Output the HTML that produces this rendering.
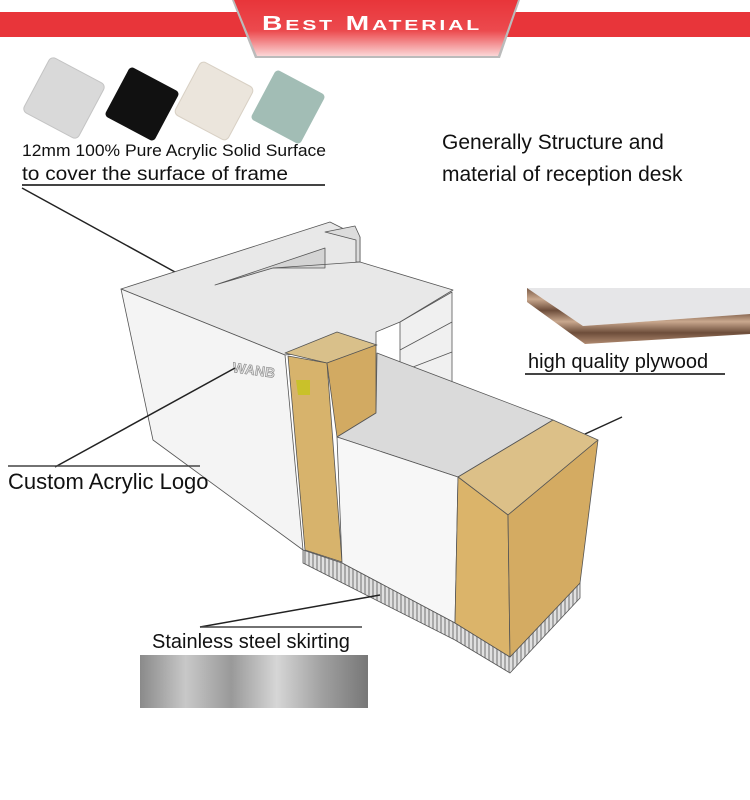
<!DOCTYPE html>
<html><head><meta charset="utf-8"><style>
html,body{margin:0;padding:0;background:#fff;}
svg{display:block;font-family:"Liberation Sans",sans-serif;}
</style></head><body>
<svg width="750" height="800" viewBox="0 0 750 800" xmlns="http://www.w3.org/2000/svg">
<defs>
<linearGradient id="tr" x1="0" y1="0" x2="0" y2="1">
<stop offset="0" stop-color="#e8353a"/><stop offset="0.55" stop-color="#ec4a4e"/><stop offset="1" stop-color="#fbd6d6"/></linearGradient>
<linearGradient id="steel" x1="0" y1="0" x2="1" y2="0">
<stop offset="0" stop-color="#8a8a8a"/><stop offset="0.2" stop-color="#c8c8c8"/><stop offset="0.4" stop-color="#999"/><stop offset="0.6" stop-color="#d6d6d6"/><stop offset="0.8" stop-color="#a0a0a0"/><stop offset="1" stop-color="#777"/></linearGradient>
<pattern id="skirt" width="4" height="10" patternUnits="userSpaceOnUse">
<rect width="4" height="10" fill="#e0e0e0"/><rect width="2" height="10" fill="#a8a8a8"/></pattern>
<linearGradient id="ply" x1="0" y1="0" x2="0" y2="1">
<stop offset="0" stop-color="#7b5a45"/><stop offset="0.2" stop-color="#c9a88e"/><stop offset="0.4" stop-color="#6d4d3a"/><stop offset="0.6" stop-color="#c9a88e"/><stop offset="0.8" stop-color="#6d4d3a"/><stop offset="1" stop-color="#b08a70"/></linearGradient>
</defs>

<!-- header -->
<rect x="0" y="12" width="750" height="25" fill="#e8353a"/>
<polygon points="232,0 520,0 500,58 255,58" fill="#bbb"/>
<polygon points="234,0 518,0 498,56 257,56" fill="url(#tr)"/>
<text x="262" y="30" fill="#fff" font-size="20" font-weight="bold" letter-spacing="2" textLength="220" lengthAdjust="spacingAndGlyphs">B<tspan font-size="15">EST</tspan> M<tspan font-size="15">ATERIAL</tspan></text>

<!-- swatches -->
<rect x="-31" y="-31" width="62" height="62" rx="5" fill="#d9d9d9" stroke="#c4c4c4" transform="translate(64,98) rotate(28)"/>
<rect x="-28" y="-28" width="56" height="56" rx="4" fill="#111" transform="translate(142,104) rotate(28)"/>
<rect x="-30" y="-30" width="60" height="60" rx="5" fill="#ebe5dc" stroke="#d8d0c4" transform="translate(214,101) rotate(28)"/>
<rect x="-28" y="-28" width="56" height="56" rx="4" fill="#a2bdb5" transform="translate(288,107) rotate(28)"/>

<text x="22" y="156" font-size="17" fill="#111" textLength="304" lengthAdjust="spacingAndGlyphs">12mm 100% Pure Acrylic Solid Surface</text>
<text x="22" y="180" font-size="19" fill="#111" textLength="266" lengthAdjust="spacingAndGlyphs">to cover the surface of frame</text>
<line x1="22" y1="185" x2="325" y2="185" stroke="#444" stroke-width="2"/>
<line x1="22" y1="188" x2="175" y2="272" stroke="#222" stroke-width="1.5"/>

<text x="442" y="149" font-size="21" fill="#111">Generally Structure and</text>
<text x="442" y="181" font-size="21" fill="#111">material of reception desk</text>

<!-- plywood sample -->
<polygon points="527,288 750,288 750,314 583,326" fill="#e6e6e8"/>
<polygon points="527,288 583,326 750,314 750,334 585,344 527,302" fill="url(#ply)"/>
<text x="528" y="368" font-size="20" fill="#111">high quality plywood</text>
<line x1="525" y1="374" x2="725" y2="374" stroke="#444" stroke-width="2"/>
<line x1="622" y1="417" x2="572" y2="440" stroke="#222" stroke-width="1.5"/>

<!-- desk -->
<g stroke="#555" stroke-width="0.8" stroke-linejoin="round">
<polygon points="400,322 452,292 452,388 400,393" fill="#f0f0f0"/>
<line x1="400" y1="350" x2="452" y2="322"/><line x1="400" y1="372" x2="452" y2="352"/>
<polygon points="121,289 330,222 360,237 360,262 453,290 400,322 376,332 376,345 285,355" fill="#e8e8e8"/>
<polygon points="215,285 325,248 325,268 273,268" fill="#d4d4d4"/>
<polygon points="325,232 355,226 360,237 360,262 356,262 356,240" fill="#dcdcdc"/>
<line x1="273" y1="268" x2="360" y2="262"/>
<polygon points="121,289 285,355 303,550 153,440" fill="#f4f4f4"/>
<polygon points="285,353 337,332 377,345 327,363" fill="#d9c08a"/>
<polygon points="288,356 327,363 342,562 305,550" fill="#d7b36c"/>
<polygon points="327,363 376,345 376,413 337,437" fill="#d2aa62"/>
<polygon points="296,380 310,380 310,395 298,395" fill="#c9c12a" stroke="none"/>
<polygon points="337,437 376,413 377,353 553,420 458,477" fill="#dadada"/>
<polygon points="337,437 458,477 455,623 342,563" fill="#f7f7f7"/>
<polygon points="303,550 342,563 455,623 510,657 580,583 580,598 510,673 455,640 303,563" fill="url(#skirt)"/>
<polygon points="458,477 553,420 598,440 508,515" fill="#dcc088"/>
<polygon points="458,477 508,515 510,657 455,623" fill="#dbb46a"/>
<polygon points="508,515 598,440 580,583 510,657" fill="#d4ab62"/>
</g>
<text x="232" y="372" font-size="14" font-weight="bold" fill="#ddd" stroke="#777" stroke-width="0.5" transform="rotate(8 232 372)">WANB</text>

<line x1="55" y1="467" x2="235" y2="368" stroke="#222" stroke-width="1.5"/>
<line x1="8" y1="466" x2="200" y2="466" stroke="#444" stroke-width="1.5"/>
<text x="8" y="489" font-size="22" fill="#111">Custom Acrylic Logo</text>

<line x1="200" y1="627" x2="380" y2="595" stroke="#222" stroke-width="1.5"/>
<line x1="200" y1="627" x2="362" y2="627" stroke="#444" stroke-width="1.5"/>
<text x="152" y="648" font-size="20" fill="#111">Stainless steel skirting</text>
<rect x="140" y="655" width="228" height="53" fill="url(#steel)"/>
</svg>
</body></html>
